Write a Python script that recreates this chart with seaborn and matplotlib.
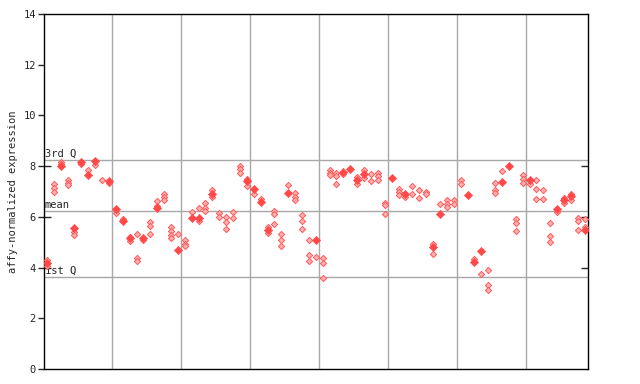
import numpy as np
import pandas as pd
import matplotlib
matplotlib.use("Agg")
import matplotlib.pyplot as plt
import seaborn as sns

# main (solid) value per sample column, None where absent
main_vals = [
    4.2, None, 8.02, None, 5.55, 8.15, 7.65, 8.2, None, 7.42,
    6.33, 5.82, 5.15, None, 5.15, None, 6.34, None, None, 4.7,
    None, 5.95, 5.95, None, 6.92, None, None, None, None, 7.4,
    7.1, 6.6, 5.5, None, None, 6.95, None, None, None, 5.08,
    None, None, None, 7.76, 7.9, 7.45, 7.7, None, None, None,
    7.55, None, 6.92, None, None, None, 4.82, 6.13, None, None,
    None, 6.85, 4.22, 4.66, None, None, 7.37, 8.0, None, None,
    7.47, None, None, None, 6.32, 6.65, 6.82, None, 5.5,
]

# other replicate values per sample column
rep_vals = [
    [4.3, 4.05], [7.3, 7.15, 7.0], [8.15, 8.08], [7.45, 7.35, 7.25], [5.4, 5.3],
    [8.1], [7.86], [8.05], [7.47], [7.32],
    [6.15], [5.9], [5.05, 5.22], [5.31, 4.38, 4.25], [5.08],
    [5.8, 5.65, 5.31], [6.64, 6.42], [6.9, 6.8, 6.65], [5.6, 5.45, 5.3, 5.15], [5.34],
    [5.1, 4.95, 4.85], [6.18], [6.36, 5.85], [6.56, 6.36, 6.25], [7.05, 6.78],
    [6.15, 6.0], [6.0, 5.79, 5.54], [6.18, 5.95], [8.0, 7.9, 7.75], [7.5, 7.2],
    [6.92], [6.7], [5.62, 5.35], [6.22, 6.1, 5.71], [5.34, 5.08, 4.84],
    [7.24], [6.95, 6.8, 6.65], [6.09, 5.84, 5.54], [5.1, 4.49, 4.27], [4.4],
    [4.38, 4.2, 3.57], [7.85, 7.75, 7.65], [7.75, 7.62, 7.31], [7.7], [],
    [7.57, 7.3], [7.85, 7.55], [7.7, 7.41], [7.73, 7.6, 7.45], [6.55, 6.45, 6.1],
    [], [7.1, 7.0, 6.88], [6.8], [7.2, 6.92], [7.07, 6.76],
    [7.0, 6.9], [4.95, 4.55], [6.5], [6.65, 6.5, 6.38], [6.68, 6.5],
    [7.45, 7.3], [], [4.35], [3.73], [3.9, 3.3, 3.1],
    [7.35, 7.07, 6.95], [7.8], [], [5.9, 5.75, 5.43], [7.65, 7.5, 7.35],
    [7.28], [7.44, 7.11, 6.72], [7.07, 6.72], [5.77, 5.24, 5.0], [6.2],
    [6.75, 6.55], [6.92, 6.68], [5.95, 5.84, 5.5], [5.93, 5.6],
]

ref_labels = ["3rd Q", "mean", "1st Q"]
ref_values = [8.23, 6.22, 3.62]
y_ticks = [0, 2, 4, 6, 8, 10, 12, 14]

rows = []
for i, v in enumerate(main_vals):
    if v is not None:
        rows.append({"col": i, "value": v, "kind": "main"})
for i, vals in enumerate(rep_vals):
    for v in vals:
        rows.append({"col": i, "value": v, "kind": "rep"})
df = pd.DataFrame(rows)

sns.set_style("white")
plt.rcParams["font.family"] = ["DejaVu Sans Mono"]

fig = plt.figure(figsize=(6.4, 3.84), dpi=100)
ax = fig.add_axes([0.069, 0.039, 0.85, 0.9245])

n = len(main_vals)
for k in range(1, 8):
    ax.axvline(10 * k - 0.5, color="#a8a8a8", lw=1, zorder=1)
for lab, val in zip(ref_labels, ref_values):
    ax.axhline(val, color="#a8a8a8", lw=1, zorder=1)
    ax.text(-0.3, val + 0.06, lab, fontsize=7.5, va="bottom", ha="left", zorder=3)

reps = df[df["kind"] == "rep"]
mains = df[df["kind"] == "main"]
sns.scatterplot(data=reps, x="col", y="value", marker="D", s=10,
                color="#ffb0b0", edgecolor="#ff5a5a", linewidth=0.7,
                ax=ax, zorder=4, legend=False)
sns.scatterplot(data=mains, x="col", y="value", marker="D", s=18,
                color="#ff4848", edgecolor="#ff4848", linewidth=0.4,
                ax=ax, zorder=5, legend=False)

ax.set_xlim(-0.4, n - 0.5)
ax.set_ylim(0, 14)
ax.set_xticks([])
ax.set_yticks(y_ticks)
ax.set_yticklabels([str(t) for t in y_ticks], fontsize=7.5)
ax.set_xlabel("")
ax.set_ylabel("affy-normalized expression", fontsize=7.5)
ax.tick_params(axis="y", direction="out", length=4, width=1, left=True, pad=2)

# small inner marks at 4, 6, 8 on both sides
ax.yaxis.remove_overlapping_locs = False
ax.set_yticks([4, 6, 8], minor=True)
ax.tick_params(axis="y", which="minor", direction="in", length=5, width=1,
               left=True, right=True)

for sp in ax.spines.values():
    sp.set_color("black")
    sp.set_linewidth(1)

fig.savefig("out.png", dpi=100)
plt.close(fig)
